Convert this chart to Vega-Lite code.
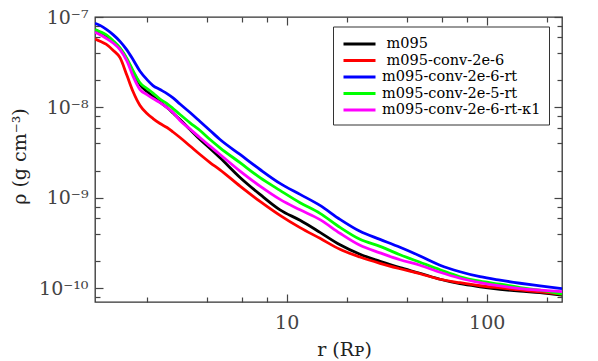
{
  "$schema": "https://vega.github.io/schema/vega-lite/v6.json",
  "width": 467,
  "height": 285,
  "autosize": {"type": "none"},
  "padding": {"left": 95, "top": 17, "right": 36, "bottom": 59},
  "background": "white",
  "config": {
    "view": {"stroke": "#333", "strokeWidth": 1.3},
    "font": "DejaVu Serif"
  },
  "datasets": {
    "d": [
      {"s":"m095","r":1.1,"rho":7.24e-8},{"s":"m095","r":1.166,"rho":6.80e-8},{"s":"m095","r":1.249,"rho":6.22e-8},{"s":"m095","r":1.354,"rho":5.34e-8},{"s":"m095","r":1.467,"rho":4.47e-8},{"s":"m095","r":1.590,"rho":3.38e-8},{"s":"m095","r":1.704,"rho":2.49e-8},{"s":"m095","r":1.847,"rho":1.790e-8},{"s":"m095","r":2.002,"rho":1.498e-8},{"s":"m095","r":2.145,"rho":1.319e-8},{"s":"m095","r":2.325,"rho":1.147e-8},{"s":"m095","r":2.520,"rho":9.97e-9},{"s":"m095","r":2.701,"rho":8.67e-9},{"s":"m095","r":2.927,"rho":7.35e-9},{"s":"m095","r":3.285,"rho":5.70e-9},{"s":"m095","r":3.686,"rho":4.42e-9},{"s":"m095","r":4.136,"rho":3.52e-9},{"s":"m095","r":4.640,"rho":2.78e-9},{"s":"m095","r":5.842,"rho":1.683e-9},{"s":"m095","r":7.354,"rho":1.093e-9},{"s":"m095","r":9.258,"rho":7.37e-10},{"s":"m095","r":11.66,"rho":5.65e-10},{"s":"m095","r":14.67,"rho":4.16e-10},{"s":"m095","r":18.47,"rho":3.03e-10},{"s":"m095","r":23.25,"rho":2.38e-10},{"s":"m095","r":29.27,"rho":1.99e-10},{"s":"m095","r":36.86,"rho":1.69e-10},{"s":"m095","r":46.40,"rho":1.468e-10},{"s":"m095","r":58.42,"rho":1.260e-10},{"s":"m095","r":73.54,"rho":1.124e-10},{"s":"m095","r":92.58,"rho":1.041e-10},{"s":"m095","r":116.6,"rho":9.77e-11},{"s":"m095","r":146.7,"rho":9.29e-11},{"s":"m095","r":184.7,"rho":8.94e-11},{"s":"m095","r":238.0,"rho":8.39e-11},

      {"s":"m095-conv-2e-6","r":1.1,"rho":5.72e-8},{"s":"m095-conv-2e-6","r":1.166,"rho":5.40e-8},{"s":"m095-conv-2e-6","r":1.249,"rho":5.01e-8},{"s":"m095-conv-2e-6","r":1.354,"rho":4.30e-8},{"s":"m095-conv-2e-6","r":1.467,"rho":3.55e-8},{"s":"m095-conv-2e-6","r":1.590,"rho":2.25e-8},{"s":"m095-conv-2e-6","r":1.704,"rho":1.498e-8},{"s":"m095-conv-2e-6","r":1.847,"rho":1.050e-8},{"s":"m095-conv-2e-6","r":2.002,"rho":8.56e-9},{"s":"m095-conv-2e-6","r":2.145,"rho":7.54e-9},{"s":"m095-conv-2e-6","r":2.325,"rho":6.64e-9},{"s":"m095-conv-2e-6","r":2.520,"rho":6.00e-9},{"s":"m095-conv-2e-6","r":2.701,"rho":5.35e-9},{"s":"m095-conv-2e-6","r":2.927,"rho":4.65e-9},{"s":"m095-conv-2e-6","r":3.285,"rho":3.75e-9},{"s":"m095-conv-2e-6","r":3.686,"rho":3.02e-9},{"s":"m095-conv-2e-6","r":4.136,"rho":2.46e-9},{"s":"m095-conv-2e-6","r":4.640,"rho":2.04e-9},{"s":"m095-conv-2e-6","r":5.842,"rho":1.350e-9},{"s":"m095-conv-2e-6","r":7.354,"rho":9.15e-10},{"s":"m095-conv-2e-6","r":9.258,"rho":6.41e-10},{"s":"m095-conv-2e-6","r":11.66,"rho":4.69e-10},{"s":"m095-conv-2e-6","r":14.67,"rho":3.57e-10},{"s":"m095-conv-2e-6","r":18.47,"rho":2.70e-10},{"s":"m095-conv-2e-6","r":23.25,"rho":2.22e-10},{"s":"m095-conv-2e-6","r":29.27,"rho":1.89e-10},{"s":"m095-conv-2e-6","r":36.86,"rho":1.646e-10},{"s":"m095-conv-2e-6","r":46.40,"rho":1.449e-10},{"s":"m095-conv-2e-6","r":58.42,"rho":1.260e-10},{"s":"m095-conv-2e-6","r":73.54,"rho":1.153e-10},{"s":"m095-conv-2e-6","r":92.58,"rho":1.068e-10},{"s":"m095-conv-2e-6","r":116.6,"rho":1.010e-10},{"s":"m095-conv-2e-6","r":146.7,"rho":9.60e-11},{"s":"m095-conv-2e-6","r":184.7,"rho":9.13e-11},{"s":"m095-conv-2e-6","r":238.0,"rho":8.61e-11},

      {"s":"m095-conv-2e-6-rt","r":1.1,"rho":8.54e-8},{"s":"m095-conv-2e-6-rt","r":1.166,"rho":8.08e-8},{"s":"m095-conv-2e-6-rt","r":1.249,"rho":7.33e-8},{"s":"m095-conv-2e-6-rt","r":1.354,"rho":6.38e-8},{"s":"m095-conv-2e-6-rt","r":1.467,"rho":5.38e-8},{"s":"m095-conv-2e-6-rt","r":1.590,"rho":4.30e-8},{"s":"m095-conv-2e-6-rt","r":1.704,"rho":3.38e-8},{"s":"m095-conv-2e-6-rt","r":1.847,"rho":2.51e-8},{"s":"m095-conv-2e-6-rt","r":2.002,"rho":2.03e-8},{"s":"m095-conv-2e-6-rt","r":2.145,"rho":1.745e-8},{"s":"m095-conv-2e-6-rt","r":2.325,"rho":1.576e-8},{"s":"m095-conv-2e-6-rt","r":2.520,"rho":1.424e-8},{"s":"m095-conv-2e-6-rt","r":2.701,"rho":1.276e-8},{"s":"m095-conv-2e-6-rt","r":2.927,"rho":1.090e-8},{"s":"m095-conv-2e-6-rt","r":3.285,"rho":8.78e-9},{"s":"m095-conv-2e-6-rt","r":3.686,"rho":6.99e-9},{"s":"m095-conv-2e-6-rt","r":4.136,"rho":5.56e-9},{"s":"m095-conv-2e-6-rt","r":4.640,"rho":4.42e-9},{"s":"m095-conv-2e-6-rt","r":5.842,"rho":3.02e-9},{"s":"m095-conv-2e-6-rt","r":7.354,"rho":2.06e-9},{"s":"m095-conv-2e-6-rt","r":9.258,"rho":1.446e-9},{"s":"m095-conv-2e-6-rt","r":11.66,"rho":1.093e-9},{"s":"m095-conv-2e-6-rt","r":14.67,"rho":8.26e-10},{"s":"m095-conv-2e-6-rt","r":18.47,"rho":5.79e-10},{"s":"m095-conv-2e-6-rt","r":23.25,"rho":4.27e-10},{"s":"m095-conv-2e-6-rt","r":29.27,"rho":3.48e-10},{"s":"m095-conv-2e-6-rt","r":36.86,"rho":2.84e-10},{"s":"m095-conv-2e-6-rt","r":46.40,"rho":2.28e-10},{"s":"m095-conv-2e-6-rt","r":58.42,"rho":1.80e-10},{"s":"m095-conv-2e-6-rt","r":73.54,"rho":1.525e-10},{"s":"m095-conv-2e-6-rt","r":92.58,"rho":1.343e-10},{"s":"m095-conv-2e-6-rt","r":116.6,"rho":1.229e-10},{"s":"m095-conv-2e-6-rt","r":146.7,"rho":1.138e-10},{"s":"m095-conv-2e-6-rt","r":184.7,"rho":1.063e-10},{"s":"m095-conv-2e-6-rt","r":238.0,"rho":9.90e-11},

      {"s":"m095-conv-2e-5-rt","r":1.1,"rho":7.24e-8},{"s":"m095-conv-2e-5-rt","r":1.166,"rho":6.88e-8},{"s":"m095-conv-2e-5-rt","r":1.249,"rho":6.38e-8},{"s":"m095-conv-2e-5-rt","r":1.354,"rho":5.47e-8},{"s":"m095-conv-2e-5-rt","r":1.467,"rho":4.55e-8},{"s":"m095-conv-2e-5-rt","r":1.590,"rho":3.47e-8},{"s":"m095-conv-2e-5-rt","r":1.704,"rho":2.55e-8},{"s":"m095-conv-2e-5-rt","r":1.847,"rho":1.868e-8},{"s":"m095-conv-2e-5-rt","r":2.002,"rho":1.616e-8},{"s":"m095-conv-2e-5-rt","r":2.145,"rho":1.442e-8},{"s":"m095-conv-2e-5-rt","r":2.325,"rho":1.238e-8},{"s":"m095-conv-2e-5-rt","r":2.520,"rho":1.104e-8},{"s":"m095-conv-2e-5-rt","r":2.701,"rho":9.72e-9},{"s":"m095-conv-2e-5-rt","r":2.927,"rho":8.35e-9},{"s":"m095-conv-2e-5-rt","r":3.285,"rho":6.76e-9},{"s":"m095-conv-2e-5-rt","r":3.686,"rho":5.56e-9},{"s":"m095-conv-2e-5-rt","r":4.136,"rho":4.42e-9},{"s":"m095-conv-2e-5-rt","r":4.640,"rho":3.58e-9},{"s":"m095-conv-2e-5-rt","r":5.842,"rho":2.45e-9},{"s":"m095-conv-2e-5-rt","r":7.354,"rho":1.671e-9},{"s":"m095-conv-2e-5-rt","r":9.258,"rho":1.210e-9},{"s":"m095-conv-2e-5-rt","r":11.66,"rho":8.85e-10},{"s":"m095-conv-2e-5-rt","r":14.67,"rho":6.75e-10},{"s":"m095-conv-2e-5-rt","r":18.47,"rho":4.72e-10},{"s":"m095-conv-2e-5-rt","r":23.25,"rho":3.48e-10},{"s":"m095-conv-2e-5-rt","r":29.27,"rho":2.91e-10},{"s":"m095-conv-2e-5-rt","r":36.86,"rho":2.35e-10},{"s":"m095-conv-2e-5-rt","r":46.40,"rho":1.94e-10},{"s":"m095-conv-2e-5-rt","r":58.42,"rho":1.604e-10},{"s":"m095-conv-2e-5-rt","r":73.54,"rho":1.343e-10},{"s":"m095-conv-2e-5-rt","r":92.58,"rho":1.198e-10},{"s":"m095-conv-2e-5-rt","r":116.6,"rho":1.110e-10},{"s":"m095-conv-2e-5-rt","r":146.7,"rho":1.020e-10},{"s":"m095-conv-2e-5-rt","r":184.7,"rho":9.53e-11},{"s":"m095-conv-2e-5-rt","r":238.0,"rho":8.61e-11},

      {"s":"m095-conv-2e-6-rt-κ1","r":1.1,"rho":6.80e-8},{"s":"m095-conv-2e-6-rt-κ1","r":1.166,"rho":6.38e-8},{"s":"m095-conv-2e-6-rt-κ1","r":1.249,"rho":5.83e-8},{"s":"m095-conv-2e-6-rt-κ1","r":1.354,"rho":5.16e-8},{"s":"m095-conv-2e-6-rt-κ1","r":1.467,"rho":4.36e-8},{"s":"m095-conv-2e-6-rt-κ1","r":1.590,"rho":3.25e-8},{"s":"m095-conv-2e-6-rt-κ1","r":1.704,"rho":2.22e-8},{"s":"m095-conv-2e-6-rt-κ1","r":1.847,"rho":1.576e-8},{"s":"m095-conv-2e-6-rt-κ1","r":2.002,"rho":1.388e-8},{"s":"m095-conv-2e-6-rt-κ1","r":2.145,"rho":1.254e-8},{"s":"m095-conv-2e-6-rt-κ1","r":2.325,"rho":1.132e-8},{"s":"m095-conv-2e-6-rt-κ1","r":2.520,"rho":9.97e-9},{"s":"m095-conv-2e-6-rt-κ1","r":2.701,"rho":8.78e-9},{"s":"m095-conv-2e-6-rt-κ1","r":2.927,"rho":7.17e-9},{"s":"m095-conv-2e-6-rt-κ1","r":3.285,"rho":5.77e-9},{"s":"m095-conv-2e-6-rt-κ1","r":3.686,"rho":4.62e-9},{"s":"m095-conv-2e-6-rt-κ1","r":4.136,"rho":3.73e-9},{"s":"m095-conv-2e-6-rt-κ1","r":4.640,"rho":3.02e-9},{"s":"m095-conv-2e-6-rt-κ1","r":5.842,"rho":1.976e-9},{"s":"m095-conv-2e-6-rt-κ1","r":7.354,"rho":1.350e-9},{"s":"m095-conv-2e-6-rt-κ1","r":9.258,"rho":9.63e-10},{"s":"m095-conv-2e-6-rt-κ1","r":11.66,"rho":7.37e-10},{"s":"m095-conv-2e-6-rt-κ1","r":14.67,"rho":5.75e-10},{"s":"m095-conv-2e-6-rt-κ1","r":18.47,"rho":4.06e-10},{"s":"m095-conv-2e-6-rt-κ1","r":23.25,"rho":2.99e-10},{"s":"m095-conv-2e-6-rt-κ1","r":29.27,"rho":2.47e-10},{"s":"m095-conv-2e-6-rt-κ1","r":36.86,"rho":2.07e-10},{"s":"m095-conv-2e-6-rt-κ1","r":46.40,"rho":1.80e-10},{"s":"m095-conv-2e-6-rt-κ1","r":58.42,"rho":1.505e-10},{"s":"m095-conv-2e-6-rt-κ1","r":73.54,"rho":1.293e-10},{"s":"m095-conv-2e-6-rt-κ1","r":92.58,"rho":1.158e-10},{"s":"m095-conv-2e-6-rt-κ1","r":116.6,"rho":1.063e-10},{"s":"m095-conv-2e-6-rt-κ1","r":146.7,"rho":9.95e-11},{"s":"m095-conv-2e-6-rt-κ1","r":184.7,"rho":9.53e-11},{"s":"m095-conv-2e-6-rt-κ1","r":238.0,"rho":9.18e-11}
    ]
  },
  "data": {"name": "d"},
  "resolve": {"axis": {"x": "independent", "y": "independent"}},
  "layer": [
    {
      "mark": {"type": "line", "strokeWidth": 2.8, "interpolate": "monotone", "clip": true},
      "encoding": {
        "x": {
          "field": "r", "type": "quantitative",
          "scale": {"type": "log", "domain": [1.1, 238], "nice": false},
          "axis": {
            "orient": "bottom",
            "values": [2, 4, 6, 8, 10, 20, 40, 60, 80, 100, 200],
            "labelExpr": "datum.value == 10 || datum.value == 100 ? datum.value : ''",
            "labelOverlap": false, "labelFlush": false,
            "labelFont": "DejaVu Serif", "labelFontSize": 19, "labelColor": "#444",
            "labelPadding": 19,
            "domain": false, "grid": false,
            "tickColor": "#444", "tickWidth": 1.2,
            "tickSize": {"condition": {"test": "datum.value == 10 || datum.value == 100", "value": -8}, "value": -5},
            "title": "r (Rᴘ)",
            "titleFont": "DejaVu Serif", "titleFontSize": 19, "titleFontWeight": "normal", "titleColor": "#222",
            "titleX": 249, "titleY": 53, "titleAlign": "center", "titleBaseline": "alphabetic"
          }
        },
        "y": {
          "field": "rho", "type": "quantitative",
          "scale": {"type": "log", "domain": [7.06e-11, 1e-7], "nice": false},
          "axis": {
            "orient": "left",
            "values": [8e-11, 1e-10, 2e-10, 4e-10, 6e-10, 8e-10, 1e-9, 2e-9, 4e-9, 6e-9, 8e-9, 1e-8, 2e-8, 4e-8, 6e-8, 8e-8, 1e-7],
            "labelExpr": "datum.value == 1e-7 ? '10⁻⁷' : datum.value == 1e-8 ? '10⁻⁸' : datum.value == 1e-9 ? '10⁻⁹' : datum.value == 1e-10 ? '10⁻¹⁰' : ''",
            "labelOverlap": false, "labelFlush": false,
            "labelFont": "DejaVu Serif", "labelFontSize": 19, "labelColor": "#444",
            "labelPadding": 15,
            "domain": false, "grid": false,
            "tickColor": "#444", "tickWidth": 1.2,
            "tickSize": {"condition": {"test": "datum.value == 1e-7 || datum.value == 1e-8 || datum.value == 1e-9 || datum.value == 1e-10", "value": -8}, "value": -5},
            "title": "ρ (g cm⁻³)",
            "titleFont": "DejaVu Serif", "titleFontSize": 19, "titleFontWeight": "normal", "titleColor": "#222",
            "titleX": -70, "titleY": 139, "titleAlign": "center", "titleBaseline": "alphabetic", "titleAngle": -90
          }
        },
        "color": {
          "field": "s", "type": "nominal",
          "scale": {
            "domain": ["m095", "m095-conv-2e-6", "m095-conv-2e-6-rt", "m095-conv-2e-5-rt", "m095-conv-2e-6-rt-κ1"],
            "range": ["#000000", "#ff0000", "#0000ff", "#00ff00", "#ff00ff"]
          },
          "legend": {
            "orient": "none", "legendX": 238, "legendY": 9.5,
            "title": null,
            "symbolType": "M-2,0L2,0", "symbolSize": 256, "symbolStrokeWidth": 3, "symbolOffset": 9,
            "labelFont": "DejaVu Serif", "labelFontSize": 14.5, "labelFontWeight": "normal", "labelColor": "#000",
            "labelExpr": "datum.label == 'm095' || datum.label == 'm095-conv-2e-6' ? '\u200c\u00a0' + datum.label : datum.label",
            "labelLimit": 400, "labelOffset": 13,
            "strokeColor": "#333", "fillColor": "white", "padding": 8, "cornerRadius": 0,
            "rowPadding": 0.5
          }
        }
      }
    },
    {
      "mark": {"type": "line", "strokeOpacity": 0},
      "encoding": {
        "x": {
          "field": "r", "type": "quantitative",
          "axis": {
            "orient": "top",
            "values": [2, 4, 6, 8, 10, 20, 40, 60, 80, 100, 200],
            "labels": false, "domain": false, "grid": false, "title": null,
            "tickColor": "#444", "tickWidth": 1.2,
            "tickSize": {"condition": {"test": "datum.value == 10 || datum.value == 100", "value": -8}, "value": -5}
          }
        },
        "y": {
          "field": "rho", "type": "quantitative",
          "axis": {
            "orient": "right",
            "values": [8e-11, 1e-10, 2e-10, 4e-10, 6e-10, 8e-10, 1e-9, 2e-9, 4e-9, 6e-9, 8e-9, 1e-8, 2e-8, 4e-8, 6e-8, 8e-8, 1e-7],
            "labels": false, "domain": false, "grid": false, "title": null,
            "tickColor": "#444", "tickWidth": 1.2,
            "tickSize": {"condition": {"test": "datum.value == 1e-7 || datum.value == 1e-8 || datum.value == 1e-9 || datum.value == 1e-10", "value": -8}, "value": -5}
          }
        },
        "detail": {"field": "s", "type": "nominal"}
      }
    }
  ]
}
